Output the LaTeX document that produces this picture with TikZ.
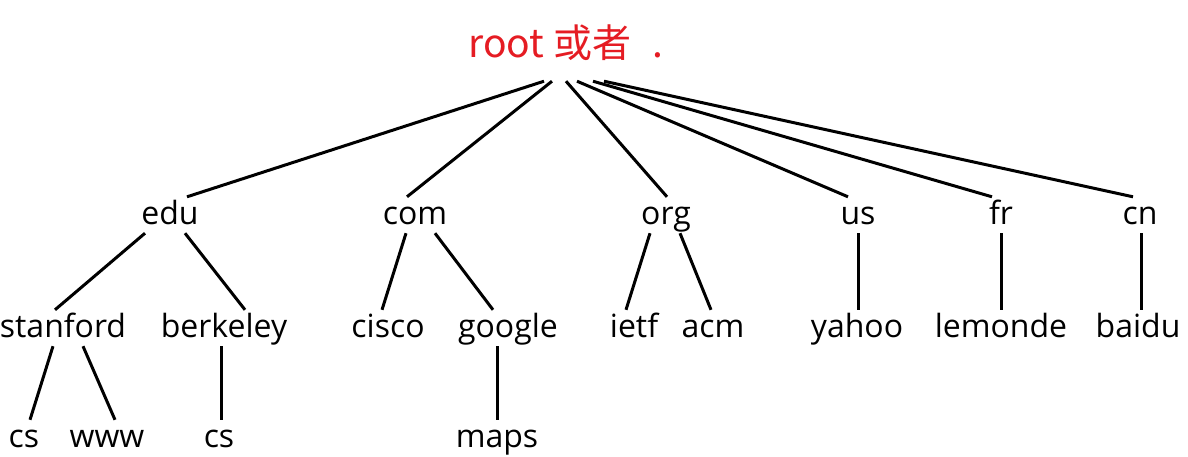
\documentclass[tikz,border=0pt]{standalone}
\usepackage{fontspec}
\setmainfont{Open Sans}
\newfontfamily\cjkfont{Noto Sans CJK SC}
\definecolor{rootred}{RGB}{229,28,35}

\begin{document}
\begin{tikzpicture}[x=1pt, y=-1pt,
		dom/.style={anchor=base, inner sep=0pt, text height=27pt, text depth=9pt, font=\fontsize{32}{38}\selectfont},
		rootdom/.style={anchor=base, inner sep=0pt, text height=32pt, text depth=24pt, text=rootred, font=\cjkfont\fontsize{39}{45}\selectfont},
		link/.style={line width=3pt}]
				  \useasboundingbox (0,0) rectangle (1188,456);
				  \node[rootdom] (root) at (566,57) {root 或者\,\, .};
				  % top level domains
				  \node[dom] (edu) at (170,224) {edu};
				  \node[dom] (com) at (415,224) {com};
				  \node[dom] (org) at (666,224) {org};
				  \node[dom] (us) at (858,224) {us};
				  \node[dom] (fr) at (1001,224) {fr};
				  \node[dom] (cn) at (1140,224) {cn};
				  % second level
				  \node[dom] (stanford) at (63,337) {stanford};
				  \node[dom] (berkeley) at (224,337) {berkeley};
				  \node[dom] (cisco) at (388,337) {cisco};
				  \node[dom] (google) at (508,337) {google};
				  \node[dom] (ietf) at (634,337) {ietf};
				  \node[dom] (acm) at (713,337) {acm};
				  \node[dom] (yahoo) at (857,337) {yahoo};
				  \node[dom] (lemonde) at (1001,337) {lemonde};
				  \node[dom] (baidu) at (1138,337) {baidu};
				  % third level
				  \node[dom] (stanfordcs) at (24,447) {cs};
				  \node[dom] (www) at (107,447) {www};
				  \node[dom] (berkeleycs) at (219,447) {cs};
				  \node[dom] (maps) at (497,447) {maps};
				  \draw[link] ([xshift=-22pt]root.south) -- ([xshift=17pt]edu.north);
				  \draw[link] ([xshift=-14pt]root.south) -- ([xshift=-8pt]com.north);
				  \draw[link] (root.south) -- ([xshift=1pt]org.north);
				  \draw[link] ([xshift=11pt]root.south) -- ([xshift=-10pt]us.north);
				  \draw[link] ([xshift=27pt]root.south) -- ([xshift=-9pt]fr.north);
				  \draw[link] ([xshift=38pt]root.south) -- ([xshift=-7pt]cn.north);
				  \draw[link] ([xshift=-25pt]edu.south) -- ([xshift=-8pt]stanford.north);
				  \draw[link] ([xshift=15pt]edu.south) -- ([xshift=21pt]berkeley.north);
				  \draw[link] ([xshift=-9pt]com.south) -- ([xshift=-6pt]cisco.north);
				  \draw[link] ([xshift=20pt]com.south) -- ([xshift=-15pt]google.north);
				  \draw[link] ([xshift=-16pt]org.south) -- ([xshift=-8pt]ietf.north);
				  \draw[link] ([xshift=14pt]org.south) -- ([xshift=-2pt]acm.north);
				  \draw[link] (us.south) -- ([xshift=1pt]yahoo.north);
				  \draw[link] (fr.south) -- (lemonde.north);
				  \draw[link] ([xshift=1pt]cn.south) -- ([xshift=3pt]baidu.north);
				  \draw[link] ([xshift=-10pt]stanford.south) -- ([xshift=6pt]stanfordcs.north);
				  \draw[link] ([xshift=20pt]stanford.south) -- ([xshift=8pt]www.north);
				  \draw[link] ([xshift=-3pt]berkeley.south) -- ([xshift=2pt]berkeleycs.north);
				  \draw[link] ([xshift=-11pt]google.south) -- (maps.north);
				\end{tikzpicture}
\end{document}
